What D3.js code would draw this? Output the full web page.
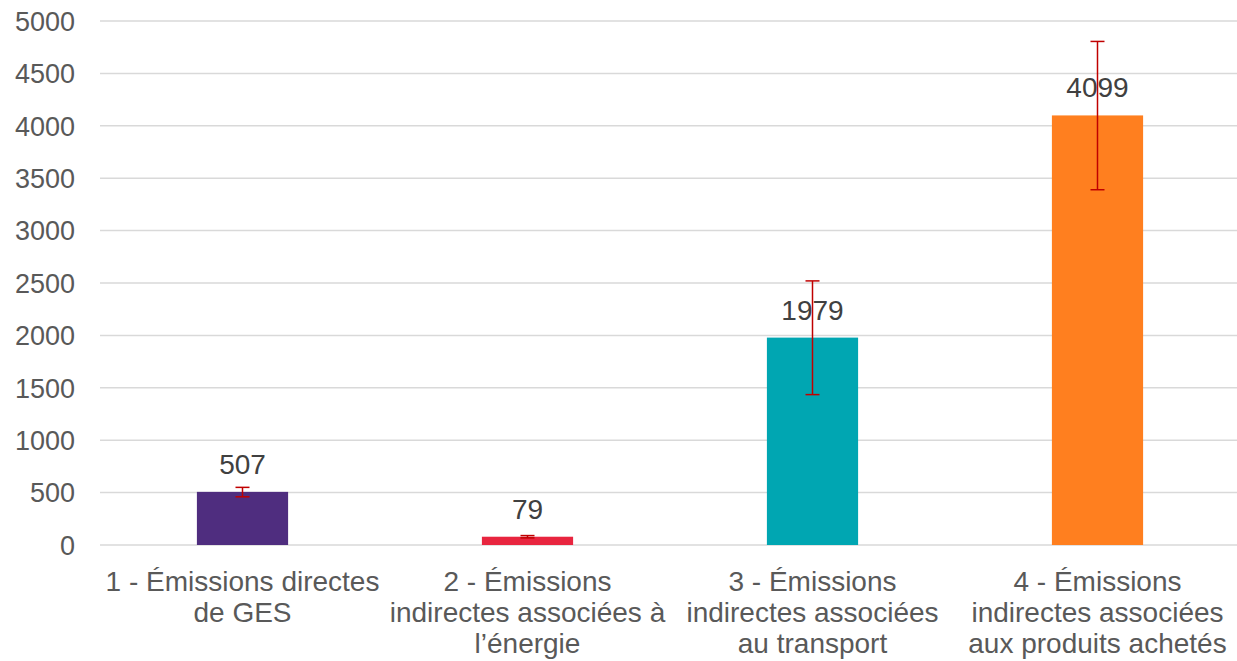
<!DOCTYPE html>
<html lang="fr">
<head>
<meta charset="UTF-8">
<title>Émissions de GES par poste</title>
<style>
  body { margin: 0; background: #fff; }
  svg { display: block; font-family: "Liberation Sans", Arial, sans-serif; }
  .grid line { stroke: #d9d9d9; stroke-width: 1.5px; }
  .tick-label { fill: #595959; font-size: 27px; }
  .cat-label { fill: #595959; font-size: 28px; }
  .value-label { fill: #404040; font-size: 28px; }
  .err { stroke: #c00000; stroke-width: 1.5px; }
</style>
</head>
<body>
<div id="chart"></div>
<script src="https://d3js.org/d3.v7.min.js"></script>
<script>
  // categories and their wrapped label lines
  const categories = ["1", "2", "3", "4"];
  const categoryLines = [
    ["1 - Émissions directes", "de GES"],
    ["2 - Émissions", "indirectes associées à", "l’énergie"],
    ["3 - Émissions", "indirectes associées", "au transport"],
    ["4 - Émissions", "indirectes associées", "aux produits achetés"]
  ];
  const values = [507, 79, 1979, 4099];
  const errLow = [460, 68, 1435, 3390];
  const errHigh = [550, 90, 2520, 4805];
  const colors = ["#4f2d7f", "#e8253f", "#00a6b2", "#ff7f1f"];
  const yTicks = [0, 500, 1000, 1500, 2000, 2500, 3000, 3500, 4000, 4500, 5000];

  const width = 1237, height = 661;
  const plotLeft = 100, plotRight = 1240, plotTop = 21, plotBottom = 545;

  const svg = d3.select("#chart").append("svg")
      .attr("width", width)
      .attr("height", height);

  const x = d3.scaleBand()
      .domain(categories)
      .range([plotLeft, plotRight])
      .paddingInner(0.68)
      .paddingOuter(0.34);

  const y = d3.scaleLinear()
      .domain([0, 5000])
      .range([plotBottom, plotTop]);

  // gridlines
  svg.append("g")
      .attr("class", "grid")
      .selectAll("line")
      .data(yTicks)
      .enter().append("line")
      .attr("x1", plotLeft)
      .attr("x2", width)
      .attr("y1", d => y(d))
      .attr("y2", d => y(d));

  // y tick labels
  svg.append("g")
      .selectAll("text")
      .data(yTicks)
      .enter().append("text")
      .attr("class", "tick-label")
      .attr("x", 75)
      .attr("y", d => y(d))
      .attr("dy", "0.36em")
      .attr("text-anchor", "end")
      .text(d => d);

  // bars
  svg.append("g")
      .selectAll("rect")
      .data(values)
      .enter().append("rect")
      .attr("x", (d, i) => x(categories[i]))
      .attr("width", x.bandwidth())
      .attr("y", d => y(d))
      .attr("height", d => y(0) - y(d))
      .attr("fill", (d, i) => colors[i]);

  // value labels
  svg.append("g")
      .selectAll("text")
      .data(values)
      .enter().append("text")
      .attr("class", "value-label")
      .attr("x", (d, i) => x(categories[i]) + x.bandwidth() / 2)
      .attr("y", d => y(d) - 18)
      .attr("text-anchor", "middle")
      .text(d => d);

  // error bars
  const err = svg.append("g").attr("class", "err")
      .selectAll("g")
      .data(values)
      .enter().append("g")
      .attr("transform", (d, i) => `translate(${x(categories[i]) + x.bandwidth() / 2},0)`);

  err.append("line")
      .attr("y1", (d, i) => y(errLow[i]))
      .attr("y2", (d, i) => y(errHigh[i]));
  err.append("line")
      .attr("x1", -7).attr("x2", 7)
      .attr("y1", (d, i) => y(errLow[i]))
      .attr("y2", (d, i) => y(errLow[i]));
  err.append("line")
      .attr("x1", -7).attr("x2", 7)
      .attr("y1", (d, i) => y(errHigh[i]))
      .attr("y2", (d, i) => y(errHigh[i]));

  // category labels
  const cat = svg.append("g")
      .selectAll("text")
      .data(categories)
      .enter().append("text")
      .attr("class", "cat-label")
      .attr("text-anchor", "middle")
      .attr("x", d => x(d) + x.bandwidth() / 2)
      .attr("y", 591);

  cat.selectAll("tspan")
      .data((d, i) => categoryLines[i])
      .enter().append("tspan")
      .attr("x", function () { return this.parentNode.getAttribute("x"); })
      .attr("dy", (d, j) => j === 0 ? 0 : 31)
      .text(d => d);
</script>
</body>
</html>
